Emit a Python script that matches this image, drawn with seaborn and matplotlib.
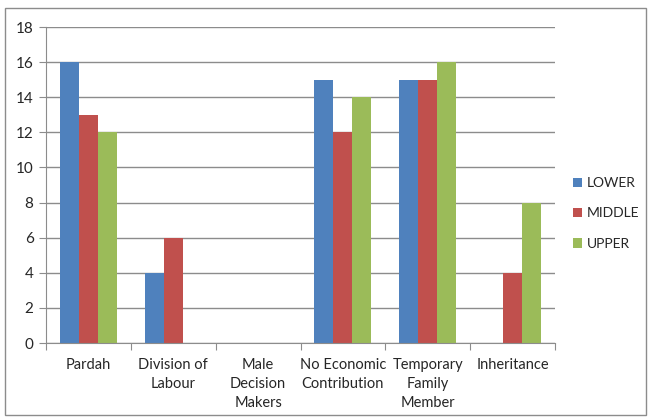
import pandas as pd
import matplotlib.pyplot as plt
import seaborn as sns
import numpy as np
from matplotlib.patches import Rectangle

categories = ['Pardah', 'Division of\nLabour', 'Male\nDecision\nMakers',
              'No Economic\nContribution', 'Temporary\nFamily\nMember', 'Inheritance']
lower = [16, 4, 0, 15, 15, 0]
middle = [13, 6, 0, 12, 15, 4]
upper = [12, 0, 0, 14, 16, 8]
groups = ['LOWER', 'MIDDLE', 'UPPER']
colors = ['#4F81BD', '#C0504D', '#9BBB59']

df = pd.DataFrame({'category': categories * 3,
                   'group': ['LOWER'] * 6 + ['MIDDLE'] * 6 + ['UPPER'] * 6,
                   'value': lower + middle + upper})

sns.set_style('white')
plt.rcParams['font.family'] = ['Lato', 'DejaVu Sans']

fig = plt.figure(figsize=(6.51, 4.20), dpi=100)
ax = fig.add_axes([0.0707, 0.1833, 0.7818, 0.7524])

sns.barplot(data=df, x='category', y='value', hue='group', hue_order=groups,
            palette=colors, width=0.67, ax=ax, saturation=1, legend=True,
            linewidth=0)

ax.set_ylim(0, 18)
ax.set_yticks(range(0, 19, 2))
ax.set_xlim(-0.5, 5.5)
ax.set_xlabel('')
ax.set_ylabel('')
ax.yaxis.grid(True, color='#8c8c8c', linewidth=1)
ax.set_axisbelow(True)
for s in ['top', 'right']:
    ax.spines[s].set_visible(False)
for s in ['left', 'bottom']:
    ax.spines[s].set_color('#8c8c8c')

ax.set_xticks(np.arange(-0.5, 6.0, 1.0))
ax.set_xticklabels([])
ax.set_xticks(range(6), minor=True)
ax.set_xticklabels(categories, minor=True, fontsize=10.5, va='top', linespacing=1.45)
ax.tick_params(axis='x', which='major', length=5, color='#8c8c8c', direction='out', bottom=True)
ax.tick_params(axis='x', which='minor', length=0, pad=11)
ax.tick_params(axis='y', length=5, color='#8c8c8c', direction='out', left=True, labelsize=11, pad=4)

leg = ax.legend(loc='center left', bbox_to_anchor=(1.01, 0.41), frameon=False,
                fontsize=10, handlelength=0.7, handleheight=0.7, handletextpad=0.3,
                labelspacing=1.3)

fig.patches.append(Rectangle((0.008, 0.012), 0.984, 0.968, transform=fig.transFigure,
                             fill=False, edgecolor='#8c8c8c', linewidth=1))

fig.savefig('out.png', dpi=100)
